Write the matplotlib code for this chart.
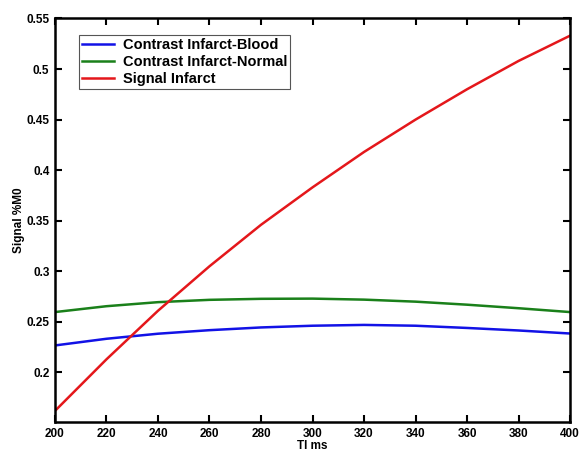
import numpy as np
import matplotlib
matplotlib.use("Agg")
import matplotlib.pyplot as plt

# TI values (ms) and curves
ti = [200, 220, 240, 260, 280, 300, 320, 340, 360, 380, 400]
contrast_blood = [0.2267, 0.2333, 0.2383, 0.2418, 0.2445, 0.2462, 0.2470, 0.2462, 0.2440, 0.2415, 0.2385]
contrast_normal = [0.2597, 0.2655, 0.2695, 0.2718, 0.2728, 0.2730, 0.2720, 0.2700, 0.2670, 0.2635, 0.2597]
signal_infarct = [0.162, 0.213, 0.261, 0.305, 0.346, 0.383, 0.418, 0.450, 0.480, 0.508, 0.533]

labels = ["Contrast Infarct-Blood", "Contrast Infarct-Normal", "Signal Infarct"]
colors = ["#1212e6", "#1a801a", "#e4171b"]

plt.rcParams["font.family"] = ["Liberation Sans", "DejaVu Sans"]

fig = plt.figure(figsize=(5.8, 4.51), dpi=100)
ax = fig.add_axes([0.0948, 0.0643, 0.888, 0.8947])

for y, lab, c in zip([contrast_blood, contrast_normal, signal_infarct], labels, colors):
    ax.plot(ti, y, color=c, linewidth=1.8, label=lab)

ax.set_xlim(200, 400)
ax.set_ylim(0.151, 0.55)
ax.set_xticks(np.arange(200, 401, 20))
ax.set_yticks([0.2, 0.25, 0.3, 0.35, 0.4, 0.45, 0.5, 0.55])
ax.set_yticklabels(["0.2", "0.25", "0.3", "0.35", "0.4", "0.45", "0.5", "0.55"])

ax.tick_params(direction="in", length=5, width=1.5, top=True, right=True,
               labelsize=8.5, pad=4)
for lbl in ax.get_xticklabels() + ax.get_yticklabels():
    lbl.set_fontweight("bold")
for sp in ax.spines.values():
    sp.set_linewidth(1.8)

ax.set_xlabel("TI ms", fontsize=8.5, fontweight="bold", labelpad=0)
ax.set_ylabel("Signal %M0", fontsize=8.5, fontweight="bold", labelpad=1)

leg = ax.legend(loc="upper left", bbox_to_anchor=(0.0466, 0.958), borderaxespad=0,
                fancybox=False, framealpha=1, edgecolor="#555555",
                prop={"weight": "bold", "size": 10.5}, handlelength=2.2,
                handletextpad=0.6, labelspacing=0.2, borderpad=0.2)
leg.get_frame().set_linewidth(0.8)

fig.savefig("out.png", dpi=100)
